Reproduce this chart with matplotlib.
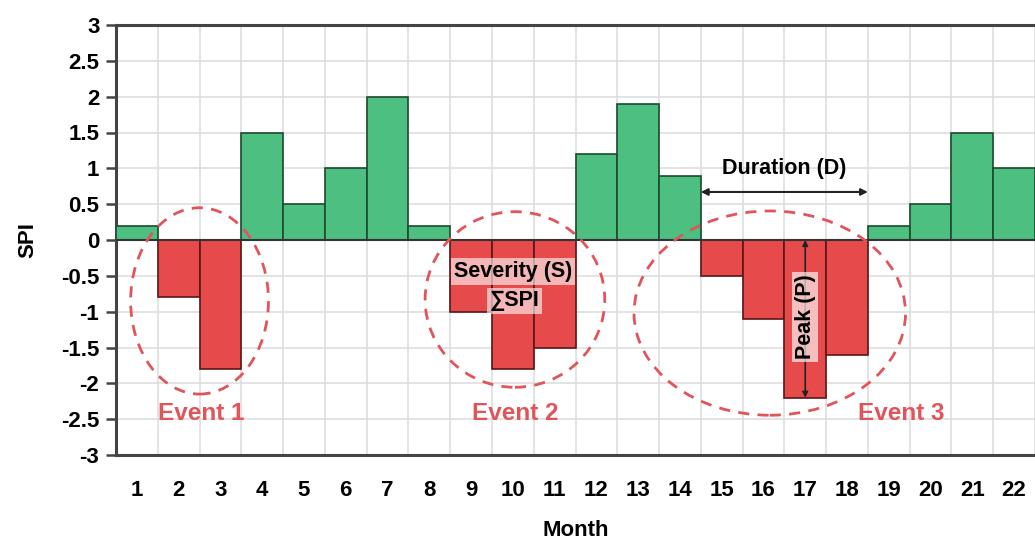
import matplotlib
matplotlib.use("Agg")
import matplotlib.pyplot as plt
from matplotlib.patches import Ellipse

plt.rcParams["font.family"] = ["Liberation Sans", "DejaVu Sans"]
plt.rcParams["font.weight"] = "bold"

# SPI values per month
months = list(range(1, 23))
spi = [0.2, -0.8, -1.8, 1.5, 0.5, 1.0, 2.0, 0.2, -1.0, -1.8, -1.5,
       1.2, 1.9, 0.9, -0.5, -1.1, -2.2, -1.6, 0.2, 0.5, 1.5, 1.0]

# drought events: label, ellipse centre x/y, width, height, label x
events = ["Event 1", "Event 2", "Event 3"]
event_cx = [2.5, 10.05, 16.15]
event_cy = [-0.85, -0.83, -1.02]
event_w = [3.3, 4.3, 6.5]
event_h = [2.6, 2.45, 2.85]
event_label_x = [2.55, 10.05, 19.3]

green = "#4dbf80"
red = "#e64a4b"
event_color = "#e0545a"

fig = plt.figure(figsize=(10.35, 5.46), dpi=100)
ax = fig.add_axes([116 / 1035, 91 / 546, 919 / 1035, 430 / 546])

colors = [green if v >= 0 else red for v in spi]
edges = ["#1d4a2e" if v >= 0 else "#5a1616" for v in spi]
ax.bar(months, spi, width=1.0, color=colors, edgecolor=edges, linewidth=1.2, zorder=3)

ax.set_xlim(0.5, 0.5 + 919 / 42.1)
ax.set_ylim(-3, 3)
ax.set_yticks([-3, -2.5, -2, -1.5, -1, -0.5, 0, 0.5, 1, 1.5, 2, 2.5, 3])
ax.set_yticklabels(["-3", "-2.5", "-2", "-1.5", "-1", "-0.5", "0", "0.5", "1",
                    "1.5", "2", "2.5", "3"])
ax.set_xticks(months)
ax.set_xticks([m + 0.5 for m in months], minor=True)

ax.grid(axis="y", color="#dedede", linewidth=1.2, zorder=0)
ax.grid(axis="x", which="minor", color="#dedede", linewidth=1.2, zorder=0)
ax.tick_params(axis="y", length=7, width=1.8, color="#444444", labelsize=16, pad=5)
ax.tick_params(axis="x", length=0, labelsize=16, pad=18)
ax.tick_params(axis="x", which="minor", length=0)

for s in ["left", "bottom", "top"]:
    ax.spines[s].set_linewidth(2.2)
    ax.spines[s].set_color("#444444")
ax.spines["right"].set_visible(False)
ax.axhline(0, color="#333333", linewidth=1.5, zorder=4)

ax.set_ylabel("SPI", fontsize=16, fontweight="bold", labelpad=16)
ax.set_xlabel("Month", fontsize=16, fontweight="bold", labelpad=14)

for i, name in enumerate(events):
    ax.add_patch(Ellipse((event_cx[i], event_cy[i]), event_w[i], event_h[i],
                         fill=False, edgecolor=event_color, linestyle=(0, (4, 3)),
                         linewidth=2, zorder=5))
    ax.text(event_label_x[i], -2.42, name, color=event_color, fontsize=17.5,
            fontweight="bold", ha="center", va="center", zorder=6)

# duration arrow
ax.annotate("", xy=(14.5, 0.67), xytext=(18.5, 0.67),
            arrowprops=dict(arrowstyle="<|-|>", color="#222222", lw=1.5,
                            mutation_scale=10, shrinkA=0, shrinkB=0), zorder=6)
ax.text(16.5, 1.0, "Duration (D)", fontsize=15.5, fontweight="bold",
        ha="center", va="center", zorder=6)

# peak arrow
ax.annotate("", xy=(17, -2.2), xytext=(17, 0),
            arrowprops=dict(arrowstyle="<|-|>", color="#222222", lw=1.2,
                            mutation_scale=8, shrinkA=0, shrinkB=0), zorder=6)
ax.text(17, -1.07, "Peak (P)", fontsize=15.5, fontweight="bold", rotation=90,
        ha="center", va="center", zorder=7,
        bbox=dict(boxstyle="square,pad=0.12", facecolor="white", alpha=0.65,
                  edgecolor="none"))

# severity
ax.text(10.0, -0.44, "Severity (S)", fontsize=15.5, fontweight="bold",
        ha="center", va="center", zorder=7,
        bbox=dict(boxstyle="square,pad=0.12", facecolor="white", alpha=0.6,
                  edgecolor="none"))
ax.text(10.05, -0.85, "\u2211SPI", fontsize=15.5, fontweight="bold",
        ha="center", va="center", zorder=7,
        bbox=dict(boxstyle="square,pad=0.12", facecolor="white", alpha=0.6,
                  edgecolor="none"))

fig.savefig("out.png", dpi=100)
